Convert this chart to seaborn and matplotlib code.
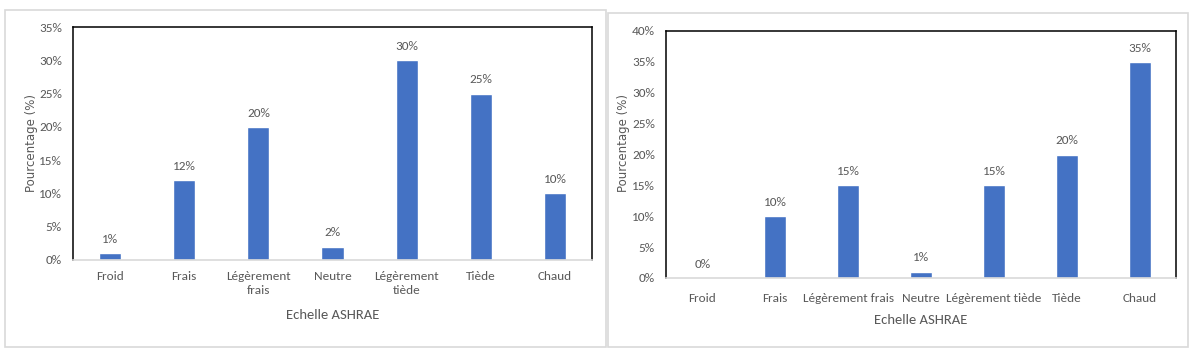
import matplotlib
matplotlib.use("Agg")
import matplotlib.pyplot as plt
import seaborn as sns
import pandas as pd
from matplotlib.patches import Rectangle

sns.set_theme(style="white")
plt.rcParams['font.family'] = ['Carlito', 'DejaVu Sans']

categories_left = ["Froid", "Frais", "Légèrement\nfrais", "Neutre", "Légèrement\ntiède", "Tiède", "Chaud"]
values_left = [1, 12, 20, 2, 30, 25, 10]
categories_right = ["Froid", "Frais", "Légèrement frais", "Neutre", "Légèrement tiède", "Tiède", "Chaud"]
values_right = [0, 10, 15, 1, 15, 20, 35]
yticks_left = [0, 5, 10, 15, 20, 25, 30, 35]
yticks_right = [0, 5, 10, 15, 20, 25, 30, 35, 40]
xlabel = "Echelle ASHRAE"
ylabel = "Pourcentage (%)"

W, H = 1204, 361
fig = plt.figure(figsize=(W / 100, H / 100), dpi=100)
fig.patch.set_facecolor("white")

TXT = "#595959"
BAR = "#4472C4"

def px_axes(x0, y0, x1, y1):
    return fig.add_axes([x0 / W, 1 - y1 / H, (x1 - x0) / W, (y1 - y0) / H])

def frame(x0, y0, x1, y1):
    fig.patches.append(Rectangle((x0 / W, 1 - y1 / H), (x1 - x0) / W, (y1 - y0) / H,
                                 transform=fig.transFigure, fill=False,
                                 edgecolor="#d9d9d9", linewidth=1.2))

frame(5, 10, 606, 347)
frame(608, 13, 1188, 347)

def panel(ax, cats, vals, yticks, xpad, lpad):
    df = pd.DataFrame({"cat": cats, "val": vals})
    sns.barplot(data=df, x="cat", y="val", color=BAR, width=0.30, ax=ax, saturation=1)
    ax.set_ylim(0, yticks[-1])
    ax.set_xlim(-0.5, len(cats) - 0.5)
    ax.set_yticks(yticks)
    ax.set_yticklabels([f"{t}%" for t in yticks], color=TXT, fontsize=9.5)
    ax.tick_params(axis="x", labelsize=9.5, colors=TXT, length=0, pad=xpad)
    ax.tick_params(axis="y", length=0, pad=8)
    for lab in ax.get_xticklabels():
        lab.set_color(TXT)
        lab.set_linespacing(1.35)
    for s in ["left", "top", "right"]:
        ax.spines[s].set_color("black")
        ax.spines[s].set_linewidth(1.1)
    ax.spines["bottom"].set_color("#d9d9d9")
    ax.spines["bottom"].set_linewidth(1.2)
    for p, v in zip(ax.patches, vals):
        ax.annotate(f"{v}%", (p.get_x() + p.get_width() / 2, p.get_height()),
                    xytext=(0, 6), textcoords="offset points",
                    ha="center", va="bottom", fontsize=9.5, color=TXT)
    ax.set_xlabel(xlabel, fontsize=10.5, color=TXT, labelpad=lpad)
    ax.set_ylabel("")

ax1 = px_axes(73, 27, 592, 260)
panel(ax1, categories_left, values_left, yticks_left, 8, 9)
fig.text(32 / W, 1 - 143 / H, ylabel, rotation=90, ha="center", va="center",
         fontsize=8.5, color=TXT, family="DejaVu Sans")

ax2 = px_axes(666, 31, 1176, 278)
panel(ax2, categories_right, values_right, yticks_right, 11, 7)
fig.text(624 / W, 1 - 143 / H, ylabel, rotation=90, ha="center", va="center",
         fontsize=8.5, color=TXT, family="DejaVu Sans")

fig.savefig("out.png", dpi=100, facecolor="white")
